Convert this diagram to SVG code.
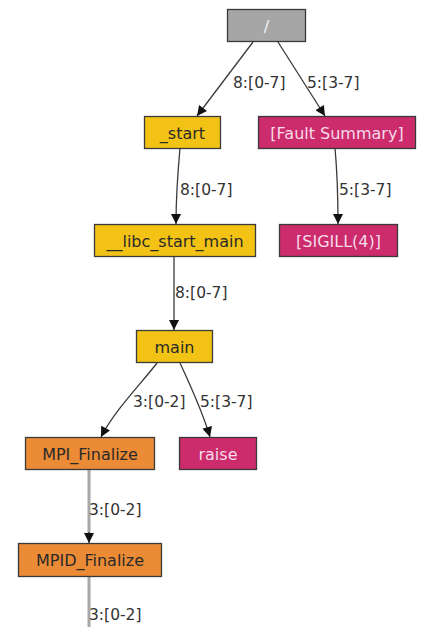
<svg xmlns="http://www.w3.org/2000/svg" width="421" height="627" viewBox="0 0 421 627">
  <style>
    .box { stroke: #3a3a3a; stroke-width: 1.3; }
    .gray { fill: #a6a6a6; }
    .yellow { fill: #f2c314; }
    .orange { fill: #ec8b35; }
    .pink { fill: #cc2b6c; }
    .lbl { font-family: "DejaVu Sans", sans-serif; font-size: 16px; text-anchor: middle; dominant-baseline: central; }
    .dark { fill: #2a2a2a; }
    .light { fill: #f6dce8; }
    .edge { fill: none; stroke: #3a3a3a; stroke-width: 1.3; }
    .edge.heavy { stroke: #a8a8a8; stroke-width: 3; }
    .elbl { font-family: "DejaVu Sans", sans-serif; font-size: 15.5px; fill: #333; dominant-baseline: central; }
  </style>
  <defs>
    <marker id="arrow" viewBox="0 0 10 10" refX="10" refY="5" markerWidth="12" markerHeight="10" markerUnits="userSpaceOnUse" orient="auto">
      <path d="M0,0 L10,5 L0,10 z" fill="#111"/>
    </marker>
  </defs>

  <rect width="421" height="627" fill="#ffffff"/>

  <g id="connectors">
    <path class="edge" d="M253,42 L197,116" marker-end="url(#arrow)"/>
    <text class="elbl" x="233" y="83">8:[0-7]</text>
    <path class="edge" d="M278,42 L325,116" marker-end="url(#arrow)"/>
    <text class="elbl" x="307" y="83">5:[3-7]</text>
    <path class="edge" d="M180,148 C178,170 176,195 176,224" marker-end="url(#arrow)"/>
    <text class="elbl" x="180" y="190">8:[0-7]</text>
    <path class="edge" d="M335,148 C337,170 338,195 338,224" marker-end="url(#arrow)"/>
    <text class="elbl" x="339" y="190">5:[3-7]</text>
    <path class="edge" d="M174,256 L174,330" marker-end="url(#arrow)"/>
    <text class="elbl" x="175" y="293">8:[0-7]</text>
    <path class="edge" d="M157,363 C140,385 115,410 101,437" marker-end="url(#arrow)"/>
    <text class="elbl" x="133" y="402">3:[0-2]</text>
    <path class="edge" d="M180,363 C190,385 202,410 210,437" marker-end="url(#arrow)"/>
    <text class="elbl" x="200" y="402">5:[3-7]</text>
    <path class="edge heavy" d="M89,469 L89,534"/>
    <path class="edge" d="M89,532 L89,543" marker-end="url(#arrow)"/>
    <text class="elbl" x="89" y="510">3:[0-2]</text>
    <path class="edge heavy" d="M89,577 L89,627"/>
    <text class="elbl" x="89" y="615">3:[0-2]</text>
  </g>

  <g id="node-root">
    <rect class="box gray" x="227.5" y="9.5" width="78" height="32"/>
    <text class="lbl" x="266.5" y="26" fill="#f4f4f4">/</text>
  </g>
  <g id="node-start">
    <rect class="box yellow" x="144.5" y="116.5" width="76" height="32"/>
    <text class="lbl dark" x="182.5" y="133">_start</text>
  </g>
  <g id="node-fault-summary">
    <rect class="box pink" x="258.5" y="116.5" width="157" height="32"/>
    <text class="lbl light" x="337" y="133">[Fault Summary]</text>
  </g>
  <g id="node-libc-start-main">
    <rect class="box yellow" x="94.5" y="224.5" width="161" height="32"/>
    <text class="lbl dark" x="175" y="241">__libc_start_main</text>
  </g>
  <g id="node-sigill">
    <rect class="box pink" x="279.5" y="224.5" width="118" height="32"/>
    <text class="lbl light" x="338.5" y="241">[SIGILL(4)]</text>
  </g>
  <g id="node-main">
    <rect class="box yellow" x="136.5" y="330.5" width="76" height="32"/>
    <text class="lbl dark" x="174.5" y="347">main</text>
  </g>
  <g id="node-mpi-finalize">
    <rect class="box orange" x="25.5" y="437.5" width="129" height="32"/>
    <text class="lbl dark" x="90" y="454">MPI_Finalize</text>
  </g>
  <g id="node-raise">
    <rect class="box pink" x="179.5" y="437.5" width="77" height="32"/>
    <text class="lbl light" x="218" y="454">raise</text>
  </g>
  <g id="node-mpid-finalize">
    <rect class="box orange" x="18.5" y="543.5" width="143" height="33"/>
    <text class="lbl dark" x="90" y="560">MPID_Finalize</text>
  </g>
</svg>
